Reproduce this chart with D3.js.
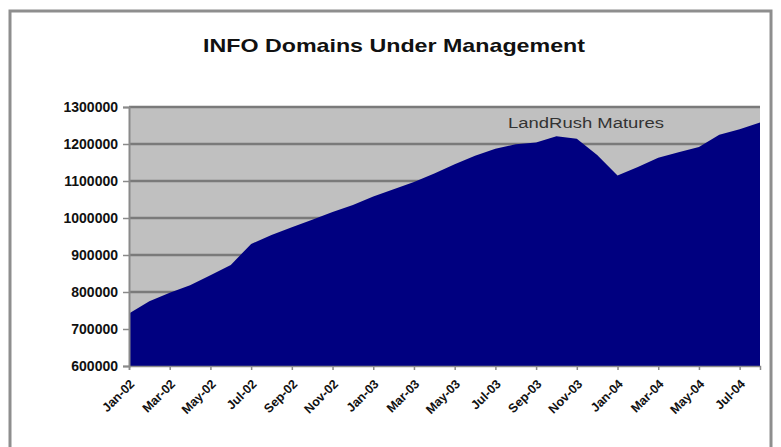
<!DOCTYPE html>
<html><head><meta charset="utf-8">
<script src="https://cdn.jsdelivr.net/npm/d3@7"></script>
<style>
html,body{margin:0;padding:0;background:#fff;}
svg{display:block;font-family:"Liberation Sans",Arial,sans-serif;}
</style></head>
<body><svg id="c" width="781" height="447"></svg>
<script>
const months = ["Jan-02","Feb-02","Mar-02","Apr-02","May-02","Jun-02","Jul-02","Aug-02","Sep-02","Oct-02","Nov-02","Dec-02",
"Jan-03","Feb-03","Mar-03","Apr-03","May-03","Jun-03","Jul-03","Aug-03","Sep-03","Oct-03","Nov-03","Dec-03",
"Jan-04","Feb-04","Mar-04","Apr-04","May-04","Jun-04","Jul-04","Aug-04"];
const domains = [742000,775000,798000,818000,845000,873000,930000,954000,975000,995000,1016000,1035000,
1058000,1078000,1097000,1120000,1145000,1168000,1187000,1199000,1204000,1221000,1214000,1170000,
1115000,1138000,1163000,1178000,1192000,1225000,1240000,1258000];
const yTicks = [600000,700000,800000,900000,1000000,1100000,1200000,1300000];
const title = "INFO Domains Under Management";
const note = "LandRush Matures";

const svg = d3.select("#c");
const L=129, R=760, T=107, B=366;
// outer frame
svg.append("rect").attr("x",10).attr("y",11).attr("width",761).attr("height",460)
  .attr("fill","none").attr("stroke","#8e8e8e").attr("stroke-width",3);

const x = d3.scalePoint().domain(months).range([L,R]);
const y = d3.scaleLinear().domain([600000,1300000]).range([B,T]);

svg.append("rect").attr("x",L).attr("y",T).attr("width",R-L).attr("height",B-T).attr("fill","#c0c0c0");

// gridlines
svg.append("g").selectAll("line").data(yTicks.slice(1)).join("line")
  .attr("x1",L).attr("x2",R).attr("y1",d=>y(d)).attr("y2",d=>y(d))
  .attr("stroke","#7a7a7a").attr("stroke-width",2.5);

const data = months.map((m,i)=>({m, v:domains[i]}));
svg.append("path").datum(data)
  .attr("d", d3.area().x(d=>x(d.m)).y0(B).y1(d=>y(d.v)))
  .attr("fill","#000080");

// y axis
const ya = svg.append("g").attr("transform",`translate(${L},0)`)
  .call(d3.axisLeft(y).tickValues(yTicks).tickFormat(d3.format("d")).tickSize(6).tickPadding(5));
ya.select(".domain").attr("stroke","#8a8a8a").attr("stroke-width",2);
ya.selectAll(".tick line").attr("stroke","#8a8a8a").attr("stroke-width",1.5);
ya.selectAll("text").attr("font-size",14).attr("font-weight","bold").attr("fill","#111")
  .attr("font-family","Liberation Sans, Arial, sans-serif");

// x axis
const xa = svg.append("g").attr("transform",`translate(0,${B})`)
  .call(d3.axisBottom(x).tickValues(months.filter((d,i)=>i%2===0)).tickSize(4).tickPadding(4));
xa.select(".domain").attr("stroke","#8a8a8a").attr("stroke-width",1.5);
xa.selectAll(".tick line").attr("stroke","#8a8a8a").attr("stroke-width",1.5);
xa.selectAll("text").attr("font-size",12.5).attr("font-weight","bold").attr("fill","#111")
  .attr("font-family","Liberation Sans, Arial, sans-serif")
  .attr("text-anchor","end").attr("dy","0.35em")
  .attr("transform","translate(-3,10) rotate(-45)");

// title
svg.append("text").attr("x",394).attr("y",52).attr("text-anchor","middle")
  .attr("font-size",19).attr("font-weight","bold").attr("fill","#111")
  .attr("textLength",382).attr("lengthAdjust","spacingAndGlyphs").text(title);

// annotation
svg.append("text").attr("x",586).attr("y",128).attr("text-anchor","middle")
  .attr("font-size",14).attr("fill","#333").attr("textLength",156).attr("lengthAdjust","spacingAndGlyphs").text(note);
</script></body></html>
